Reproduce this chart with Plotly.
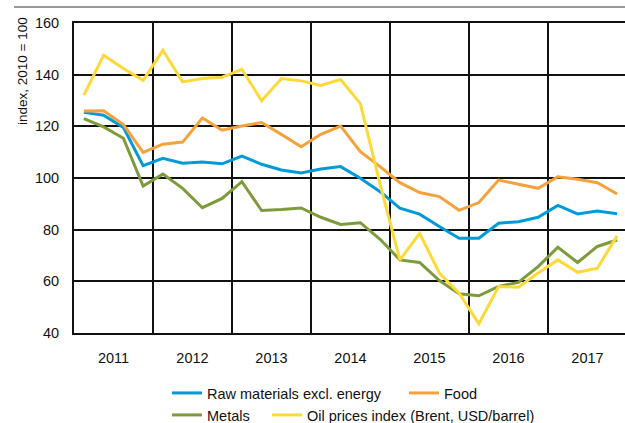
import plotly.graph_objects as go

# quarterly data, 2011Q1 - 2017Q4 (index, 2010 = 100)
years = [2011, 2012, 2013, 2014, 2015, 2016, 2017]
quarters = [1, 2, 3, 4]

raw_materials = [125.4, 124.3, 119.6, 104.8, 107.6, 105.7, 106.2, 105.5,
                 108.5, 105.3, 103.1, 101.9, 103.5, 104.4, 99.9, 94.7,
                 88.3, 86.0, 81.2, 76.7, 76.7, 82.5, 83.1, 84.8,
                 89.4, 86.1, 87.2, 86.2]
food = [125.9, 126.0, 120.7, 109.9, 113.1, 113.9, 123.2, 118.5,
        120.1, 121.5, 116.9, 112.1, 116.9, 120.1, 110.2, 104.4,
        98.2, 94.4, 92.8, 87.5, 90.5, 99.2, 97.6, 96.0,
        100.5, 99.5, 98.2, 93.8]
metals = [123.0, 119.8, 115.4, 96.9, 101.5, 96.0, 88.5, 92.1,
          98.6, 87.4, 87.8, 88.4, 84.8, 82.0, 82.7, 76.3,
          68.3, 67.3, 60.3, 55.2, 54.4, 58.0, 59.6, 65.7,
          73.2, 67.3, 73.5, 76.0]
oil = [132.1, 147.5, 142.4, 137.8, 149.4, 137.2, 138.5, 139.0,
       142.1, 129.9, 138.5, 137.6, 135.8, 138.1, 128.8, 97.5,
       68.3, 78.6, 63.2, 55.4, 43.6, 58.0, 57.7, 63.2,
       68.3, 63.5, 65.1, 77.6]

y_ticks = [40, 60, 80, 100, 120, 140, 160]

# quarter midpoints on a numeric year axis
x = [y + (q - 0.5) / 4 for y in years for q in quarters]

FONT = "Liberation Sans, Arial, sans-serif"
PW, PH = 551, 310  # plot area in px

fig = go.Figure()
series = [
    ("Raw materials excl. energy", raw_materials, "#009ad8", "legend"),
    ("Food", food, "#f6a23c", "legend"),
    ("Metals", metals, "#7d9b3b", "legend2"),
    ("Oil prices index (Brent, USD/barrel)", oil, "#ffd93a", "legend3"),
]
for name, vals, col, leg in series:
    fig.add_trace(go.Scatter(x=x, y=vals, name=name, mode="lines",
                             line=dict(color=col, width=3), legend=leg))

leg_common = dict(orientation="h", xanchor="left", yanchor="middle",
                  font=dict(size=14.5), bgcolor="rgba(0,0,0,0)")

fig.update_layout(
    width=625, height=423,
    margin=dict(l=74, r=0, t=23, b=90, autoexpand=False),
    paper_bgcolor="white", plot_bgcolor="white",
    font=dict(family=FONT, size=14.5, color="#111"),
    xaxis=dict(
        range=[2011, 2017.975],
        tickvals=[y + 0.5 for y in years],
        ticktext=[str(y) for y in years],
        showgrid=False, ticks="", ticklabelstandoff=11,
        showline=True, linecolor="#111", linewidth=2, mirror=True,
        minor=dict(tick0=2011, dtick=1, showgrid=True,
                   gridcolor="#111", gridwidth=1.5),
        zeroline=False,
    ),
    yaxis=dict(
        range=[40, 160], tickvals=y_ticks,
        showgrid=True, gridcolor="#111", gridwidth=1.5,
        showline=True, linecolor="#111", linewidth=2,
        ticks="", ticklabelstandoff=10, zeroline=False,
    ),
    legend=dict(x=(167 - 74) / PW, y=(333 - 393) / PH,
                entrywidth=192, **leg_common),
    legend2=dict(x=(167 - 74) / PW, y=(333 - 415) / PH, **leg_common),
    legend3=dict(x=(267 - 74) / PW, y=(333 - 415) / PH, **leg_common),
    showlegend=True,
)

fig.add_annotation(text="index, 2010 = 100", textangle=-90,
                   xref="paper", yref="paper",
                   x=(23 - 74) / PW, xanchor="center",
                   y=1 + 8 / PH, yanchor="top",
                   showarrow=False, font=dict(size=13.5))

fig.add_shape(type="line", xref="paper", yref="paper",
              x0=(14 - 74) / PW, x1=1.01, y0=1 + 16 / PH, y1=1 + 16 / PH,
              line=dict(color="#777", width=1.5))

# drop the default 8px page margin so the figure fills the window
fig.write_html("out.html", config={"displayModeBar": False},
               post_script="document.body.style.margin='0';")
